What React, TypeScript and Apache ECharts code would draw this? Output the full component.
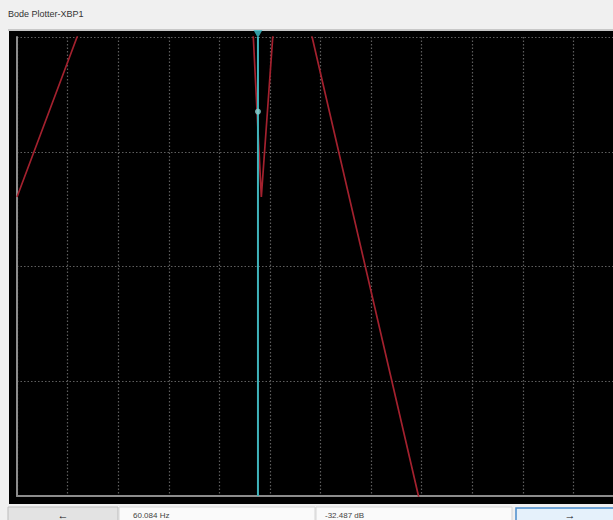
import React, { useEffect, useRef } from "react";
import * as echarts from "echarts";

// Magnitude response (frequency in Hz, gain in dB)
const redFreqHz = [0.1, 0.493, 0.7, 45, 53.1, 65.7, 89, 120, 200, 253, 4266, 8000];
const redGainDb = [-69.7, 0, 20, 20, 0, -69.7, 0, 20, 20, 0, -200, -240];

// Cursor reading
const cursorFreqHz = 60.084;
const cursorGainDb = -32.487;
const cursorFreqLabel = "60.084 Hz";
const cursorGainLabel = "-32.487 dB";

// Axis ranges
const freqMin = 0.1;
const freqMax = 1000000;
const gainMin = -200;
const gainMax = 0;
const gainStep = 50;
const gridDivisions = 12;

const title = "Bode Plotter-XBP1";

export default function App() {
  const ref = useRef<HTMLDivElement>(null);

  useEffect(() => {
    if (!ref.current) return;
    const chart = echarts.init(ref.current, null, { renderer: "svg" });
    const redData = redFreqHz.map((f, i) => [f, redGainDb[i]]);
    const gridColor = "#5e5e5e";
    chart.setOption({
      animation: false,
      backgroundColor: "#f0f0f0",
      grid: { left: 17, top: 37, width: 607, height: 459, containLabel: false },
      xAxis: [
        {
          type: "log",
          logBase: 10,
          min: freqMin,
          max: freqMax,
          position: "top",
          show: false,
        },
        {
          type: "value",
          min: 0,
          max: gridDivisions,
          interval: 1,
          position: "bottom",
          axisLine: { show: true, lineStyle: { color: "#8c8c8c", width: 2 } },
          axisTick: { show: false },
          axisLabel: { show: false },
          splitLine: {
            show: true,
            lineStyle: { color: gridColor, type: [1.5, 2], width: 1.2 },
          },
        },
      ],
      yAxis: {
        type: "value",
        min: gainMin,
        max: gainMax,
        interval: gainStep,
        axisLine: { show: true, lineStyle: { color: "#8c8c8c", width: 2 } },
        axisTick: { show: false },
        axisLabel: { show: false },
        splitLine: {
          show: true,
          lineStyle: { color: gridColor, type: [1.5, 2], width: 1.2 },
        },
      },
      graphic: [
        {
          type: "text",
          left: 8,
          top: 9,
          style: {
            text: title,
            fontSize: 9,
            fontFamily: "Liberation Sans, Arial, sans-serif",
            fill: "#333",
          },
          z: 10,
        },
        {
          type: "rect",
          shape: { x: 8, y: 29, width: 622, height: 2 },
          style: { fill: "#c8c8c8" },
          z: -2,
        },
        {
          type: "rect",
          shape: { x: 9, y: 31, width: 621, height: 473 },
          style: { fill: "#000" },
          z: -1,
        },
        {
          type: "rect",
          shape: { x: 8, y: 507, width: 110, height: 14 },
          style: { fill: "#e3e3e3", stroke: "#bdbdbd", lineWidth: 1 },
          z: 10,
        },
        {
          type: "text",
          x: 63,
          y: 515,
          style: {
            text: "←",
            fontSize: 11,
            fontWeight: "bold",
            fill: "#111",
            align: "center",
            verticalAlign: "middle",
          },
          z: 11,
        },
        {
          type: "rect",
          shape: { x: 119, y: 507, width: 196, height: 14 },
          style: { fill: "#fafafa", stroke: "#d6d6d6", lineWidth: 1 },
          z: 10,
        },
        {
          type: "text",
          x: 133,
          y: 515,
          style: {
            text: cursorFreqLabel,
            fontSize: 8,
            fontFamily: "Liberation Sans, Arial, sans-serif",
            fill: "#444",
            verticalAlign: "middle",
          },
          z: 11,
        },
        {
          type: "rect",
          shape: { x: 316, y: 507, width: 196, height: 14 },
          style: { fill: "#fafafa", stroke: "#d6d6d6", lineWidth: 1 },
          z: 10,
        },
        {
          type: "text",
          x: 325,
          y: 515,
          style: {
            text: cursorGainLabel,
            fontSize: 8,
            fontFamily: "Liberation Sans, Arial, sans-serif",
            fill: "#444",
            verticalAlign: "middle",
          },
          z: 11,
        },
        {
          type: "rect",
          shape: { x: 516, y: 508, width: 110, height: 14 },
          style: { fill: "#e5f1fb", stroke: "#4a8ccc", lineWidth: 1.5 },
          z: 10,
        },
        {
          type: "text",
          x: 570,
          y: 515,
          style: {
            text: "→",
            fontSize: 11,
            fontWeight: "bold",
            fill: "#111",
            align: "center",
            verticalAlign: "middle",
          },
          z: 11,
        },
      ],
      series: [
        {
          type: "line",
          xAxisIndex: 0,
          data: redData,
          showSymbol: false,
          clip: true,
          lineStyle: { color: "#a3212e", width: 1.7 },
          silent: true,
          z: 3,
        },
        {
          type: "line",
          xAxisIndex: 0,
          data: [
            [cursorFreqHz, gainMax],
            [cursorFreqHz, gainMin],
          ],
          showSymbol: false,
          lineStyle: { color: "#3fb3bb", width: 2 },
          silent: true,
          z: 4,
        },
        {
          type: "scatter",
          xAxisIndex: 0,
          data: [[cursorFreqHz, cursorGainDb]],
          symbol: "circle",
          symbolSize: 6,
          itemStyle: { color: "#86cfcf" },
          silent: true,
          z: 5,
        },
        {
          type: "scatter",
          xAxisIndex: 0,
          data: [[cursorFreqHz, gainMax]],
          symbol: "triangle",
          symbolRotate: 180,
          symbolSize: [9, 8],
          symbolOffset: [0, -3],
          clip: false,
          itemStyle: { color: "#3fc0cc" },
          silent: true,
          z: 5,
        },
      ],
    });
    return () => chart.dispose();
  }, []);

  return (
    <div
      style={{
        position: "fixed",
        left: 0,
        top: 0,
        width: 613,
        height: 520,
        overflow: "hidden",
        background: "#f0f0f0",
      }}
    >
      <div ref={ref} style={{ width: 630, height: 520 }} />
    </div>
  );
}
